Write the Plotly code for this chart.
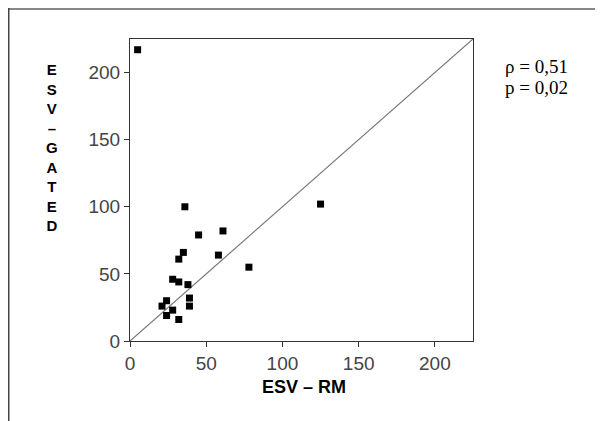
import plotly.graph_objects as go

esv_rm = [5, 36, 125, 45, 61, 35, 32, 58, 78, 28, 32, 38, 39, 39, 24, 21, 28, 24, 32]
esv_gated = [217, 100, 102, 79, 82, 66, 61, 64, 55, 46, 44, 42, 32, 26, 30, 26, 23, 19, 16]
axis_range = [0, 225]
tick_vals = [0, 50, 100, 150, 200]
x_title = "ESV – RM"
y_title_letters = ["E", "S", "V", "–", "G", "A", "T", "E", "D"]
stats_text = ["ρ = 0,51", "p = 0,02"]

OFF = 8  # page body margin
W, H = 595, 413
L, T = 122, 31
pw, ph = 343, 302
R, B = W - L - pw, H - T - ph

fig = go.Figure()
fig.add_trace(go.Scatter(x=axis_range, y=axis_range, mode="lines",
                         line=dict(color="#777777", width=1.2), hoverinfo="skip"))
fig.add_trace(go.Scatter(x=esv_rm, y=esv_gated, mode="markers",
                         marker=dict(symbol="square", size=7, color="black",
                                     line=dict(width=0))))

axis_common = dict(range=axis_range, tickvals=tick_vals, showgrid=False, zeroline=False,
                   showline=True, linecolor="#333333", linewidth=1, mirror=True,
                   ticks="outside", ticklen=5, tickcolor="#333333",
                   tickfont=dict(family="Arial, Liberation Sans", size=19, color="#444444"))

fig.update_layout(
    width=W, height=H, margin=dict(l=L, r=R, t=T, b=B),
    paper_bgcolor="white", plot_bgcolor="white", showlegend=False,
    xaxis=dict(**axis_common),
    yaxis=dict(**axis_common),
)

def px_x(p):
    return (p - OFF - L) / pw

def px_y(p):
    return (T + ph - (p - OFF)) / ph

fig.add_annotation(xref="paper", yref="paper", x=px_x(304), y=px_y(387),
                   text="<b>" + x_title + "</b>", showarrow=False,
                   font=dict(family="Arial, Liberation Sans", size=18, color="black"),
                   xanchor="center", yanchor="middle")

fig.add_annotation(xref="paper", yref="paper", x=px_x(52), y=px_y(147),
                   text="<b>" + "<br>".join(y_title_letters) + "</b>", showarrow=False,
                   font=dict(family="Arial, Liberation Sans", size=15, color="black"),
                   xanchor="center", yanchor="middle", align="center")

for i, line in enumerate(stats_text):
    fig.add_annotation(xref="paper", yref="paper", x=px_x(503), y=px_y(66 + 21 * i),
                       text=line, showarrow=False,
                       font=dict(family="Times New Roman, Liberation Serif", size=19, color="black"),
                       xanchor="left", yanchor="middle", align="left")

# outer frame lines
fig.add_shape(type="line", xref="paper", yref="paper",
              x0=px_x(8), x1=px_x(603), y0=px_y(9), y1=px_y(9),
              line=dict(color="#888888", width=2))
fig.add_shape(type="line", xref="paper", yref="paper",
              x0=px_x(8.5), x1=px_x(8.5), y0=px_y(8), y1=px_y(421),
              line=dict(color="#444444", width=2))

fig.write_html("out.html")
